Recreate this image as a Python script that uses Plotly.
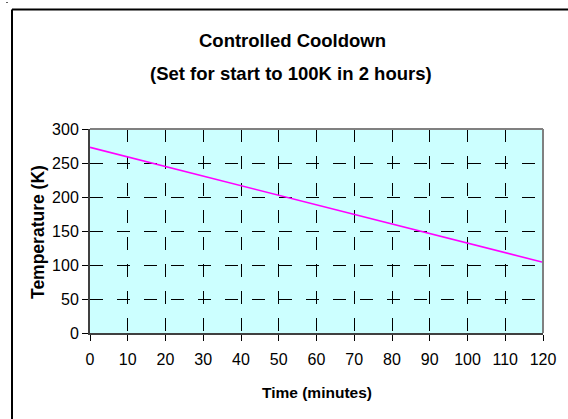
import plotly.graph_objects as go

time_min = [0, 10, 20, 30, 40, 50, 60, 70, 80, 90, 100, 110, 120]
temperature_k = [273, 259, 245, 231, 217, 203, 189, 175, 160, 146, 132, 118, 104]
x_ticks = list(range(0, 121, 10))
y_ticks = list(range(0, 301, 50))

W, H = 568, 419
L, R, T, B = 90, 543, 129, 333

def px(x):
    return (x - L) / (R - L)

def py(y):
    return (B - y) / (B - T)

fig = go.Figure()
fig.add_trace(go.Scatter(x=time_min, y=temperature_k, mode="lines",
                         line=dict(color="#FF00FF", width=1.6), showlegend=False))

font = "Liberation Sans, Arial, sans-serif"
axis_common = dict(showgrid=True, gridcolor="black", griddash="13px,14px", gridwidth=1,
                   zeroline=False, showline=True, linecolor="#404040", linewidth=2,
                   ticks="outside", ticklen=6, tickcolor="black", tickfont=dict(size=16))

def label(text, x, y, size, angle=0):
    return dict(text=text, xref="paper", yref="paper", x=px(x), y=py(y),
                xanchor="center", yanchor="middle", showarrow=False,
                textangle=angle, font=dict(size=size))

fig.update_layout(
    width=W, height=H,
    margin=dict(l=L, r=W - R, t=T, b=H - B),
    paper_bgcolor="white", plot_bgcolor="#CCFFFF",
    font=dict(family=font, size=16, color="black"),
    xaxis=dict(range=[0, 120], tickvals=x_ticks, ticklabelstandoff=5, **axis_common),
    yaxis=dict(range=[0, 300], tickvals=y_ticks, ticklabelstandoff=0, **axis_common),
    shapes=[
        dict(type="line", xref="paper", yref="paper", x0=0, x1=1, y0=1, y1=1,
             line=dict(color="#808080", width=2)),
        dict(type="line", xref="paper", yref="paper", x0=1, x1=1, y0=0, y1=1,
             line=dict(color="#808080", width=2)),
        dict(type="line", xref="paper", yref="paper", x0=px(12), x1=px(570),
             y0=py(9.5), y1=py(9.5), line=dict(color="black", width=2)),
        dict(type="line", xref="paper", yref="paper", x0=px(12), x1=px(12),
             y0=py(9.5), y1=py(425), line=dict(color="black", width=2)),
        dict(type="line", xref="paper", yref="paper", x0=px(6), x1=px(8),
             y0=py(2.5), y1=py(2.5), line=dict(color="#606060", width=1)),
    ],
    annotations=[
        label("<b>Controlled Cooldown</b>", 292, 40, 18.5),
        label("<b>(Set for start to 100K in 2 hours)</b>", 291, 73, 18.5),
        label("<b>Time (minutes)</b>", 317, 392, 15.5),
        label("<b>Temperature (K)</b>", 38, 232, 17.5, -90),
    ],
)

fig.write_html("out.html", config={"displayModeBar": False},
               post_script="document.body.style.margin='0px';")
